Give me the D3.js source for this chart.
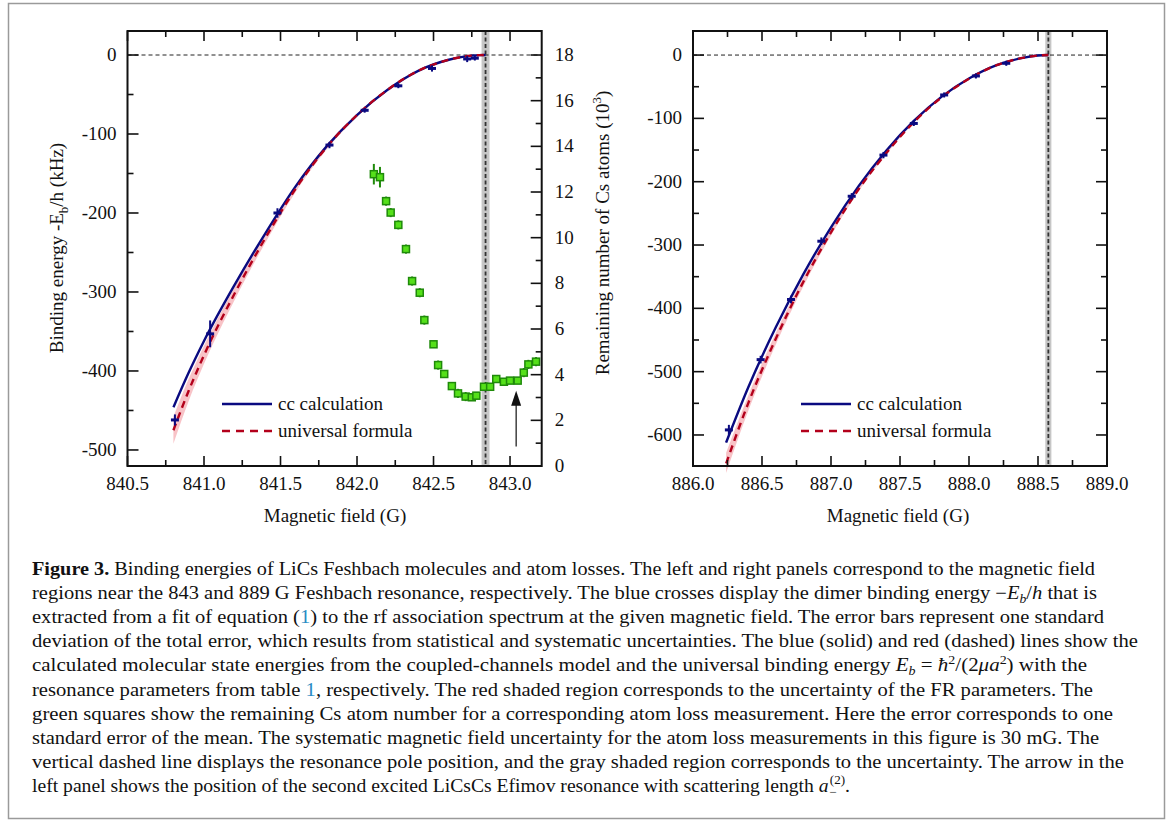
<!DOCTYPE html>
<html>
<head>
<meta charset="utf-8">
<script src="https://cdn.jsdelivr.net/npm/d3@7"></script>
<style>
  body { margin: 0; background: #fff; }
  svg text { font-family: "Liberation Serif", "Times New Roman", Times, serif; fill: #111; }
</style>
</head>
<body>
<svg id="Figure" width="1168" height="821"></svg>
<script>
// left panel: binding energies near the 843 G resonance (kHz)
let leftCrossB = [840.81, 841.04, 841.48, 841.82, 842.05, 842.27, 842.49, 842.72, 842.77]
let leftCrossE = [-462, -353, -200, -114, -70, -39, -17, -5, -4]
let leftCrossErr = [7, 17, 6, 4, 3, 3, 4, 4, 3]
let leftCurveB = [840.80, 840.9, 841.0, 841.2, 841.4, 841.6, 841.8, 842.0, 842.2, 842.4, 842.6, 842.7, 842.8, 842.84]
let leftCC = [-446, -402, -362, -291, -226, -166, -116, -76, -44, -20, -6, -2, -0.2, 0]
let leftUniv = [-475, -425, -380, -302, -232, -169, -117, -76, -44, -20, -6, -2, -0.2, 0]
let leftBandLo = [-492, -438, -391, -310, -238, -173, -120, -78, -45, -21, -6, -2, -0.2, 0]
let leftBandHi = [-458, -410, -368, -294, -227, -165, -114, -74, -43, -19, -6, -2, -0.2, 0]
let leftPole = 842.84, leftPoleErr = 0.026

// left panel: remaining Cs atoms (10^3)
let lossB = [842.11, 842.15, 842.19, 842.22, 842.27, 842.32, 842.36, 842.41, 842.44, 842.50, 842.53, 842.57, 842.62,
             842.66, 842.71, 842.75, 842.78, 842.83, 842.87, 842.91, 842.96, 843.00, 843.05, 843.09, 843.12, 843.17]
let lossN = [12.78, 12.65, 11.6, 11.1, 10.56, 9.5, 8.1, 7.59, 6.39, 5.33, 4.42, 4.03, 3.5,
             3.18, 3.04, 3.01, 3.08, 3.47, 3.47, 3.81, 3.69, 3.74, 3.74, 4.09, 4.45, 4.57]
let lossErr = [0.45, 0.45, 0.2, 0.2, 0.2, 0.2, 0.2, 0.2, 0.2, 0.15, 0.2, 0.15, 0.15,
               0.2, 0.2, 0.15, 0.15, 0.15, 0.15, 0.15, 0.15, 0.15, 0.15, 0.2, 0.2, 0.2]
let arrowB = 843.04, arrowFrom = 0.85, arrowTo = 3.3

// right panel: binding energies near the 889 G resonance (kHz)
let rightCrossB = [886.26, 886.49, 886.71, 886.93, 887.15, 887.38, 887.60, 887.82, 888.05, 888.27]
let rightCrossE = [-592, -481, -386, -294, -223, -158, -108, -63, -33, -13]
let rightCrossErr = [8, 6, 6, 6, 5, 5, 4, 4, 4, 4]
let rightCurveB = [886.24, 886.4, 886.6, 886.8, 887.0, 887.2, 887.4, 887.6, 887.8, 888.0, 888.2, 888.4, 888.5, 888.575]
let rightCC = [-612, -525, -430, -346, -272, -207, -151, -104, -66, -37, -16, -4, -0.8, 0]
let rightUniv = [-645, -550, -448, -358, -280, -212, -155, -106, -67, -37.5, -16, -4, -0.8, 0]
let rightBandLo = [-660, -562, -457, -365, -285, -215, -157, -107, -68, -38, -16.5, -4, -0.8, 0]
let rightBandHi = [-628, -538, -439, -351, -275, -209, -153, -105, -66, -37, -15.5, -4, -0.8, 0]
let rightPole = 888.575, rightPoleErr = 0.022

let legendLabels = ["cc calculation", "universal formula"]

// caption pieces: [style, text]; sub/sup pieces shift the baseline
let captionLines = [
  [["b", "Figure 3."], ["", " Binding energies of LiCs Feshbach molecules and atom losses. The left and right panels correspond to the magnetic field"]],
  [["", "regions near the 843 and 889 G Feshbach resonance, respectively. The blue crosses display the dimer binding energy \u2212"], ["i", "E"], ["isub", "b"], ["", "/"], ["i", "h"], ["", " that is"]],
  [["", "extracted from a fit of equation ("], ["link", "1"], ["", ") to the rf association spectrum at the given magnetic field. The error bars represent one standard"]],
  [["", "deviation of the total error, which results from statistical and systematic uncertainties. The blue (solid) and red (dashed) lines show the"]],
  [["", "calculated molecular state energies from the coupled-channels model and the universal binding energy "], ["i", "E"], ["isub", "b"], ["", " = "], ["i", "\u0127"], ["sup", "2"], ["", "/(2"], ["i", "\u03bca"], ["sup", "2"], ["", ") with the"]],
  [["", "resonance parameters from table "], ["link", "1"], ["", ", respectively. The red shaded region corresponds to the uncertainty of the FR parameters. The"]],
  [["", "green squares show the remaining Cs atom number for a corresponding atom loss measurement. Here the error corresponds to one"]],
  [["", "standard error of the mean. The systematic magnetic field uncertainty for the atom loss measurements in this figure is 30 mG. The"]],
  [["", "vertical dashed line displays the resonance pole position, and the gray shaded region corresponds to the uncertainty. The arrow in the"]],
  [["", "left panel shows the position of the second excited LiCsCs Efimov resonance with scattering length "], ["i", "a"], ["isub", "\u2212"], ["stack", "(2)"], ["", "."]]
]
let captionEnds = [1095, 1097, 1104, 1138, 1087, 1093, 1113, 1099, 1124, 850]

let svg = d3.select("#Figure")
let blue = "#0a0a80", red = "#b3001b", pink = "#f7b9bd", green = "#55e01a", darkGreen = "#1f8a0a"
let fmt = d => String(d).replace("\u2212", "-")

function getPanelConfig(left, right, xDomain, yDomain) {
  let top = 31, bottom = 466
  let x = d3.scaleLinear().domain(xDomain).range([left, right])
  let y = d3.scaleLinear().domain(yDomain).range([bottom, top])
  return { left, right, top, bottom, x, y }
}

function drawFrameTicks(p, xMajor, xMinor, yMajor, yMinor, opts) {
  let g = svg.append("g")
  // x ticks on bottom and top, pointing inward
  xMinor.forEach(v => {
    let len = xMajor.includes(v) ? 10 : 6
    g.append("line").attr("x1", p.x(v)).attr("x2", p.x(v)).attr("y1", p.bottom).attr("y2", p.bottom - len)
      .attr("stroke", "#111").attr("stroke-width", 1.6)
    g.append("line").attr("x1", p.x(v)).attr("x2", p.x(v)).attr("y1", p.top).attr("y2", p.top + len)
      .attr("stroke", "#111").attr("stroke-width", 1.6)
  })
  xMajor.forEach(v => {
    g.append("text").attr("x", p.x(v)).attr("y", 490).attr("text-anchor", "middle")
      .style("font-size", "19px").text(v.toFixed(1))
  })
  yMinor.forEach(v => {
    let len = yMajor.includes(v) ? 11 : 6
    g.append("line").attr("x1", p.left).attr("x2", p.left + len).attr("y1", p.y(v)).attr("y2", p.y(v))
      .attr("stroke", "#111").attr("stroke-width", 1.6)
    if (opts.mirrorY)
      g.append("line").attr("x1", p.right).attr("x2", p.right - len).attr("y1", p.y(v)).attr("y2", p.y(v))
        .attr("stroke", "#111").attr("stroke-width", 1.6)
  })
  yMajor.forEach(v => {
    g.append("text").attr("x", p.left - 11).attr("y", p.y(v) + 6).attr("text-anchor", "end")
      .style("font-size", "19px").text(fmt(v))
  })
}

function drawFrame(p) {
  svg.append("rect").attr("x", p.left).attr("y", p.top).attr("width", p.right - p.left).attr("height", p.bottom - p.top)
    .attr("fill", "none").attr("stroke", "#111").attr("stroke-width", 2)
}

function drawPole(p, pole, err) {
  svg.append("rect").attr("x", p.x(pole - err)).attr("y", p.top).attr("width", p.x(pole + err) - p.x(pole - err))
    .attr("height", p.bottom - p.top).attr("fill", "#c6c6c6")
  svg.append("line").attr("x1", p.x(pole)).attr("x2", p.x(pole)).attr("y1", p.top).attr("y2", p.bottom)
    .attr("stroke", "#333").attr("stroke-width", 1.8).attr("stroke-dasharray", "4,2.5")
}

function drawZeroLine(p) {
  svg.append("line").attr("x1", p.left).attr("x2", p.right).attr("y1", p.y(0)).attr("y2", p.y(0))
    .attr("stroke", "#222").attr("stroke-width", 1).attr("stroke-dasharray", "4,3")
}

function drawCurves(p, B, cc, univ, lo, hi) {
  let area = d3.area().x((d, i) => p.x(B[i])).y0((d, i) => p.y(lo[i])).y1((d, i) => p.y(hi[i])).curve(d3.curveMonotoneX)
  svg.append("path").attr("d", area(B)).attr("fill", pink).attr("opacity", 0.85)
  let lineUniv = d3.line().x((d, i) => p.x(B[i])).y((d, i) => p.y(univ[i])).curve(d3.curveMonotoneX)
  let lineCC = d3.line().x((d, i) => p.x(B[i])).y((d, i) => p.y(cc[i])).curve(d3.curveMonotoneX)
  svg.append("path").attr("d", lineCC(B)).attr("fill", "none").attr("stroke", blue).attr("stroke-width", 2.4)
  svg.append("path").attr("d", lineUniv(B)).attr("fill", "none").attr("stroke", red).attr("stroke-width", 2.4)
    .attr("stroke-dasharray", "7,5")
}

function drawCrosses(p, B, E, err) {
  let g = svg.append("g")
  B.forEach((b, i) => {
    let cx = p.x(b), cy = p.y(E[i])
    g.append("line").attr("x1", cx).attr("x2", cx).attr("y1", p.y(E[i] - err[i])).attr("y2", p.y(E[i] + err[i]))
      .attr("stroke", blue).attr("stroke-width", 2)
    g.append("line").attr("x1", cx - 4).attr("x2", cx + 4).attr("y1", cy).attr("y2", cy)
      .attr("stroke", blue).attr("stroke-width", 3)
  })
}

function drawLegend(x0, y0) {
  svg.append("line").attr("x1", x0).attr("x2", x0 + 50).attr("y1", y0).attr("y2", y0)
    .attr("stroke", blue).attr("stroke-width", 2.4)
  svg.append("line").attr("x1", x0).attr("x2", x0 + 50).attr("y1", y0 + 27).attr("y2", y0 + 27)
    .attr("stroke", red).attr("stroke-width", 2.4).attr("stroke-dasharray", "8,6")
  legendLabels.forEach((t, i) => {
    svg.append("text").attr("x", x0 + 56).attr("y", y0 + 6 + i * 27).style("font-size", "19px").text(t)
  })
}

// left panel
let L = getPanelConfig(127.5, 541.7, [840.5, 843.207], [-520.3, 30.4])
let yN = d3.scaleLinear().domain([0, 18]).range([L.bottom, L.y(0)])

drawPole(L, leftPole, leftPoleErr)
drawZeroLine(L)
drawCurves(L, leftCurveB, leftCC, leftUniv, leftBandLo, leftBandHi)
drawCrosses(L, leftCrossB, leftCrossE, leftCrossErr)

// green squares
let gl = svg.append("g")
lossB.forEach((b, i) => {
  gl.append("line").attr("x1", L.x(b)).attr("x2", L.x(b)).attr("y1", yN(lossN[i] - lossErr[i])).attr("y2", yN(lossN[i] + lossErr[i]))
    .attr("stroke", darkGreen).attr("stroke-width", 2)
  gl.append("rect").attr("x", L.x(b) - 3.5).attr("y", yN(lossN[i]) - 3.5).attr("width", 7).attr("height", 7)
    .attr("fill", green).attr("stroke", darkGreen).attr("stroke-width", 1.5)
})

// arrow marking the Efimov resonance
svg.append("line").attr("x1", L.x(arrowB)).attr("x2", L.x(arrowB)).attr("y1", yN(arrowFrom)).attr("y2", yN(arrowTo) + 12)
  .attr("stroke", "#111").attr("stroke-width", 1.2)
svg.append("path")
  .attr("d", `M${L.x(arrowB)},${yN(arrowTo)} l-5,15 l10,0 z`).attr("fill", "#111")

drawFrame(L)
drawFrameTicks(L, [840.5, 841.0, 841.5, 842.0, 842.5, 843.0], d3.range(840.5, 843.21, 0.25).map(v => +v.toFixed(2)),
  [0, -100, -200, -300, -400, -500], d3.range(0, -521, -50), { mirrorY: false })

// right axis of left panel (atom number)
let rAx = svg.append("g")
d3.range(0, 19, 1).forEach(v => {
  let len = v % 2 === 0 ? 11 : 6
  rAx.append("line").attr("x1", L.right).attr("x2", L.right - len).attr("y1", yN(v)).attr("y2", yN(v))
    .attr("stroke", "#111").attr("stroke-width", 1.6)
  if (v % 2 === 0)
    rAx.append("text").attr("x", L.right + 13).attr("y", yN(v) + 6).style("font-size", "19px").text(v)
})

drawLegend(222, 404)

svg.append("text").attr("transform", "translate(63,248) rotate(-90)").attr("text-anchor", "middle")
  .style("font-size", "19px")
  .call(t => {
    t.append("tspan").text("Binding energy -E")
    t.append("tspan").attr("dy", 5).style("font-size", "13px").text("b")
    t.append("tspan").attr("dy", -5).text("/h (kHz)")
  })
svg.append("text").attr("transform", "translate(609,233) rotate(-90)").attr("text-anchor", "middle")
  .style("font-size", "19px")
  .call(t => {
    t.append("tspan").text("Remaining number of Cs atoms (10")
    t.append("tspan").attr("dy", -8).style("font-size", "13px").text("3")
    t.append("tspan").attr("dy", 8).text(")")
  })
svg.append("text").attr("x", 335).attr("y", 522).attr("text-anchor", "middle").style("font-size", "19px").text("Magnetic field (G)")

// right panel
let R = getPanelConfig(693, 1107, [886.0, 889.0], [-649, 38])
drawPole(R, rightPole, rightPoleErr)
drawZeroLine(R)
drawCurves(R, rightCurveB, rightCC, rightUniv, rightBandLo, rightBandHi)
drawCrosses(R, rightCrossB, rightCrossE, rightCrossErr)
drawFrame(R)
drawFrameTicks(R, [886.0, 886.5, 887.0, 887.5, 888.0, 888.5, 889.0], d3.range(886, 889.01, 0.25).map(v => +v.toFixed(2)),
  [0, -100, -200, -300, -400, -500, -600], d3.range(0, -649, -50), { mirrorY: true })
drawLegend(801, 404)
svg.append("text").attr("x", 898).attr("y", 522).attr("text-anchor", "middle").style("font-size", "19px").text("Magnetic field (G)")

// outer box + caption
svg.append("rect").attr("x", 8.5).attr("y", 3.5).attr("width", 1156).attr("height", 815)
  .attr("fill", "none").attr("stroke", "#9a9a9a").attr("stroke-width", 1.5)

let shift = { "": 0, b: 0, i: 0, link: 0, isub: 4, sup: -7, stack: -8 }
captionLines.forEach((parts, i) => {
  let t = svg.append("text").attr("x", 32).attr("y", 575 + i * 24.1).style("font-size", "18px")
    .attr("textLength", captionEnds[i] - 32).attr("lengthAdjust", "spacingAndGlyphs")
  let base = 0
  parts.forEach(([kind, s]) => {
    let sp = t.append("tspan").text(s)
    let target = shift[kind]
    if (target !== base) sp.attr("dy", target - base)
    base = target
    if (kind === "b") sp.style("font-weight", "bold")
    if (kind === "i" || kind === "isub") sp.style("font-style", "italic")
    if (kind === "link") sp.style("fill", "#2a8cc4")
    if (kind === "isub" || kind === "sup" || kind === "stack") sp.style("font-size", "12px")
    if (kind === "stack") sp.attr("dx", -7)
  })
})
</script>
</body>
</html>
